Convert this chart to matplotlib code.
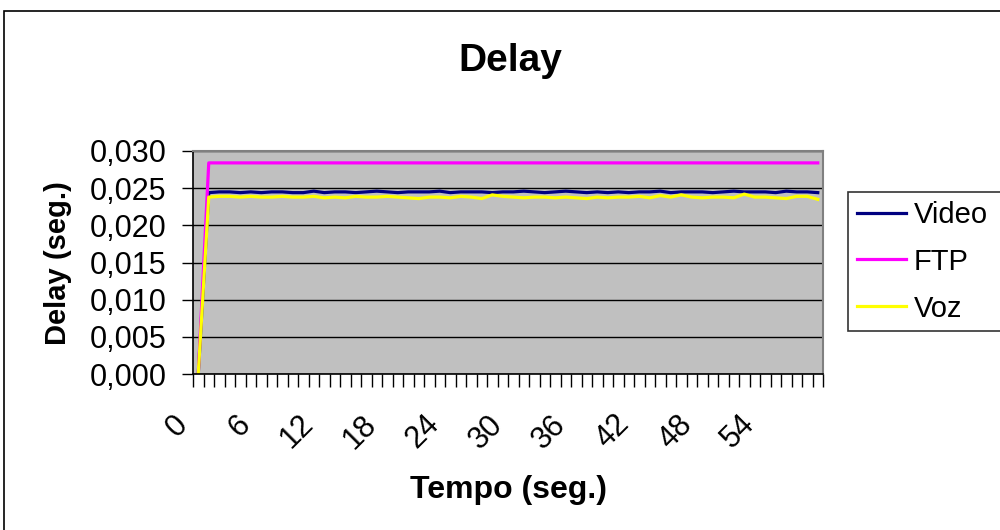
import matplotlib.pyplot as plt
from matplotlib.patches import Rectangle
from matplotlib.ticker import FixedLocator, FuncFormatter
import matplotlib.transforms as mtrans

plt.rcParams['font.family'] = ['Liberation Sans', 'DejaVu Sans']

# Delay per second (60 samples, tempo 0..59)
tempo = list(range(60))
video = [0, 0.0244, 0.0245, 0.0245, 0.0244, 0.0245, 0.0244, 0.0245, 0.0245, 0.0244,
         0.0244, 0.0246, 0.0244, 0.0245, 0.0245, 0.0244, 0.0245, 0.0246, 0.0245, 0.0244,
         0.0245, 0.0245, 0.0245, 0.0246, 0.0244, 0.0245, 0.0245, 0.0245, 0.0244, 0.0245,
         0.0245, 0.0246, 0.0245, 0.0244, 0.0245, 0.0246, 0.0245, 0.0244, 0.0245, 0.0244,
         0.0245, 0.0244, 0.0245, 0.0245, 0.0246, 0.0244, 0.0245, 0.0245, 0.0245, 0.0244,
         0.0245, 0.0246, 0.0245, 0.0245, 0.0245, 0.0244, 0.0246, 0.0245, 0.0245, 0.0244]
ftp = [0] + [0.0284] * 59
voz = [0, 0.0238, 0.0239, 0.0239, 0.0238, 0.0239, 0.0238, 0.0238, 0.0239, 0.0238,
       0.0238, 0.0239, 0.0237, 0.0238, 0.0237, 0.0239, 0.0238, 0.0238, 0.0239, 0.0238,
       0.0237, 0.0236, 0.0238, 0.0238, 0.0237, 0.0239, 0.0238, 0.0236, 0.0241, 0.0239,
       0.0238, 0.0237, 0.0238, 0.0238, 0.0237, 0.0238, 0.0237, 0.0236, 0.0238, 0.0237,
       0.0238, 0.0238, 0.0239, 0.0237, 0.0240, 0.0238, 0.0241, 0.0238, 0.0237, 0.0238,
       0.0238, 0.0237, 0.0242, 0.0238, 0.0238, 0.0237, 0.0236, 0.0239, 0.0239, 0.0235]
yticks = [0, 0.005, 0.010, 0.015, 0.020, 0.025, 0.030]

fig = plt.figure(figsize=(10, 5.3), dpi=100)
ax = fig.add_axes([0.193, 0.2943, 0.630, 0.4208])
ax.set_facecolor('#C0C0C0')

# outer chart border (only left/top visible)
fig.patches.append(Rectangle((0.004, -0.2), 1.2, 0.2 + 0.979, transform=fig.transFigure,
                             fill=False, edgecolor='black', lw=1.2))

ax.plot(tempo, video, color='#000080', lw=2.3, label='Video')
ax.plot(tempo, ftp, color='#FF00FF', lw=2.3, label='FTP')
ax.plot(tempo, voz, color='#FFFF00', lw=2.3, label='Voz')

ax.set_xlim(-0.5, 59.5)
ax.set_ylim(0, 0.030)
ax.set_yticks(yticks)
ax.yaxis.set_major_formatter(FuncFormatter(lambda v, p: f'{v:.3f}'.replace('.', ',')))
ax.yaxis.grid(True, color='black', lw=1.0)
ax.set_axisbelow(True)

ax.xaxis.set_major_locator(FixedLocator(tempo[::6]))
ax.xaxis.set_minor_locator(FixedLocator([t - 0.5 for t in tempo] + [59.5]))
ax.set_xticklabels([str(t) for t in tempo[::6]])
ax.tick_params(axis='x', which='major', length=0, pad=33, labelsize=22)
ax.tick_params(axis='x', which='minor', length=9, width=1, direction='out')
ax.tick_params(axis='y', length=8, width=1, direction='out', labelsize=22, pad=11)
offset = mtrans.ScaledTranslation(-15 / 100, 0, fig.dpi_scale_trans)
for lab in ax.get_xticklabels():
    lab.set_rotation(45)
    lab.set_ha('right')
    lab.set_va('center')
    lab.set_rotation_mode('anchor')
    lab.set_transform(lab.get_transform() + offset)

for s in ['top', 'right']:
    ax.spines[s].set_color('#808080')
    ax.spines[s].set_linewidth(1.5)
for s in ['left', 'bottom']:
    ax.spines[s].set_color('black')
    ax.spines[s].set_linewidth(1.2)

fig.text(0.51, 0.884, 'Delay', ha='center', va='center', fontsize=28, fontweight='bold')
fig.text(0.058, 0.504, 'Delay (seg.)', ha='center', va='center', rotation=90,
         fontsize=21, fontweight='bold')
fig.text(0.509, 0.0755, 'Tempo (seg.)', ha='center', va='center', fontsize=23, fontweight='bold')

# legend box runs past the right edge, as in the original
leg = ax.legend(loc='upper left', bbox_to_anchor=(0.848, 1 - 192 / 530, 0.17, 0), mode='expand',
                bbox_transform=fig.transFigure,
                frameon=True, fancybox=False, fontsize=21, handlelength=1.7, handletextpad=0.25,
                labelspacing=0.65, borderpad=0.3, borderaxespad=0)
leg.get_frame().set_edgecolor('black')
leg.get_frame().set_linewidth(1.2)

fig.savefig('out.png', dpi=100)
